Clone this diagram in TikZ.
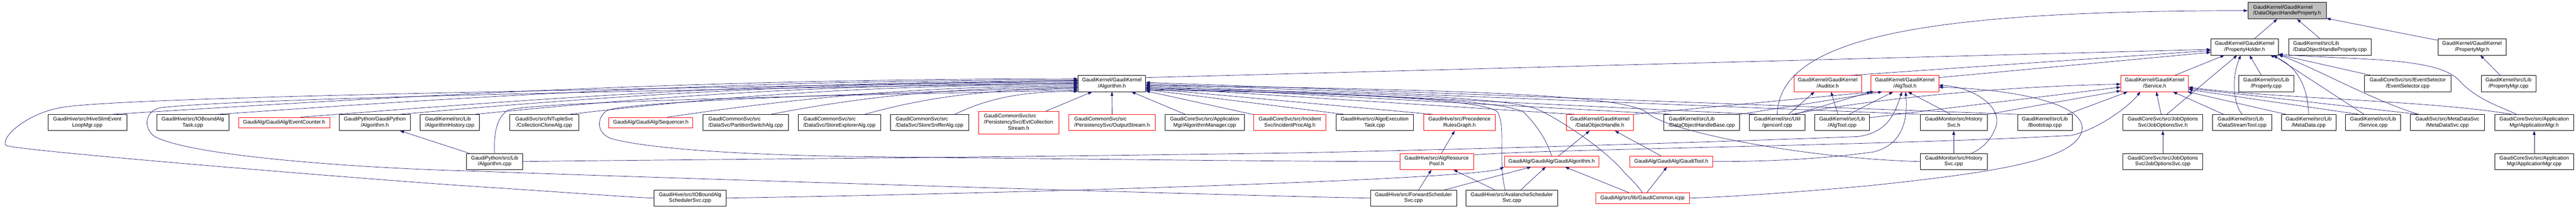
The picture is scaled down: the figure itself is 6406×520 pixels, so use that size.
\documentclass[tikz,border=0pt]{standalone}
\usepackage{fontspec}
\setmainfont{Liberation Sans}
\usetikzlibrary{arrows.meta}
\definecolor{edgeblue}{RGB}{25,25,112}
\newcommand{\nodefont}{\fontsize{13}{15}\selectfont}
\newcommand{\twoln}[2]{\begin{tabular}{@{}l@{}}#1\\\multicolumn{1}{@{}c@{}}{#2}\end{tabular}}
\newcommand{\threeln}[3]{\begin{tabular}{@{}l@{}}#1\\#2\\\multicolumn{1}{@{}c@{}}{#3}\end{tabular}}
\begin{document}
\begin{tikzpicture}[x=1pt, y=1pt, >={Triangle[length=10pt,width=7pt]},
	link/.style={draw=edgeblue, line width=0.9pt}]
		\useasboundingbox (0,0) rectangle (6406,-520);
		% file nodes
		\begin{scope}[every node/.style={draw, fill=white, line width=0.9pt, minimum height=40pt, inner sep=1pt, font=\nodefont}]
			\node (DOHProp)[minimum width=195pt, minimum height=41pt, fill=black!25] at (5687.5,-26.5) {\twoln{GaudiKernel/GaudiKernel}{/DataObjectHandleProperty.h}};
			\node (PropHolder)[minimum width=168pt] at (5582,-117) {\twoln{GaudiKernel/GaudiKernel}{/PropertyHolder.h}};
			\node (DOHPropCpp)[minimum width=206pt] at (5794,-117) {\twoln{GaudiKernel/src/Lib}{/DataObjectHandleProperty.cpp}};
			\node (PropMgrH)[minimum width=169pt] at (6147.5,-117) {\twoln{GaudiKernel/GaudiKernel}{/PropertyMgr.h}};
			\node (AlgH)[minimum width=168pt] at (2765,-208) {\twoln{GaudiKernel/GaudiKernel}{/Algorithm.h}};
			\node (PropCpp)[minimum width=137pt] at (5635.5,-208) {\twoln{GaudiKernel/src/Lib}{/Property.cpp}};
			\node (EvtSel)[minimum width=215pt] at (5987.5,-208) {\twoln{GaudiCoreSvc/src/EventSelector}{/EventSelector.cpp}};
			\node (PropMgrCpp)[minimum width=136pt] at (6238,-208) {\twoln{GaudiKernel/src/Lib}{/PropertyMgr.cpp}};
			\node (HiveSlim)[minimum width=196pt] at (217,-305) {\twoln{GaudiHive/src/HiveSlimEvent}{LoopMgr.cpp}};
			\node (IOTask)[minimum width=179pt] at (479.5,-305) {\twoln{GaudiHive/src/IOBoundAlg}{Task.cpp}};
			\node (PyAlgH)[minimum width=176pt] at (932,-305) {\twoln{GaudiPython/GaudiPython}{/Algorithm.h}};
			\node (AlgHist)[minimum width=148pt] at (1118,-305) {\twoln{GaudiKernel/src/Lib}{/AlgorithmHistory.cpp}};
			\node (CollClone)[minimum width=171pt] at (1353.5,-305) {\twoln{GaudiSvc/src/NTupleSvc}{/CollectionCloneAlg.cpp}};
			\node (PartSwitch)[minimum width=213pt] at (1854.5,-305) {\twoln{GaudiCommonSvc/src}{/DataSvc/PartitionSwitchAlg.cpp}};
			\node (StoreExpl)[minimum width=205pt] at (2087.5,-305) {\twoln{GaudiCommonSvc/src}{/DataSvc/StoreExplorerAlg.cpp}};
			\node (StoreSniff)[minimum width=195pt] at (2311.5,-305) {\twoln{GaudiCommonSvc/src}{/DataSvc/StoreSnifferAlg.cpp}};
			\node (AlgMgr)[minimum width=198pt] at (2996,-305) {\twoln{GaudiCoreSvc/src/Application}{Mgr/AlgorithmManager.cpp}};
			\node (AlgoExec)[minimum width=193pt] at (3418.5,-305) {\twoln{GaudiHive/src/AlgoExecution}{Task.cpp}};
			\node (DOHBase)[minimum width=188pt] at (4232,-305) {\twoln{GaudiKernel/src/Lib}{/DataObjectHandleBase.cpp}};
			\node (Genconf)[minimum width=139pt] at (4419.5,-305) {\twoln{GaudiKernel/src/Util}{/genconf.cpp}};
			\node (AlgToolCpp)[minimum width=136pt] at (4581,-305) {\twoln{GaudiKernel/src/Lib}{/AlgTool.cpp}};
			\node (HistSvcH)[minimum width=167pt] at (4858.5,-305) {\twoln{GaudiMonitor/src/History}{Svc.h}};
			\node (Bootstrap)[minimum width=136pt] at (5085,-305) {\twoln{GaudiKernel/src/Lib}{/Bootstrap.cpp}};
			\node (JobOptH)[minimum width=199pt] at (5378.5,-305) {\twoln{GaudiCoreSvc/src/JobOptions}{Svc/JobOptionsSvc.h}};
			\node (DataStream)[minimum width=147pt] at (5575.5,-305) {\twoln{GaudiKernel/src/Lib}{/DataStreamTool.cpp}};
			\node (MetaData)[minimum width=136pt] at (5741,-305) {\twoln{GaudiKernel/src/Lib}{/MetaData.cpp}};
			\node (SvcCpp)[minimum width=137pt] at (5901.5,-305) {\twoln{GaudiKernel/src/Lib}{/Service.cpp}};
			\node (MetaSvc)[minimum width=184pt] at (6086,-305) {\twoln{GaudiSvc/src/MetaDataSvc}{/MetaDataSvc.cpp}};
			\node (AppMgrH)[minimum width=196pt] at (6302,-305) {\twoln{GaudiCoreSvc/src/Application}{Mgr/ApplicationMgr.h}};
			\node (PyAlgCpp)[minimum width=140pt] at (1230,-402) {\twoln{GaudiPython/src/Lib}{/Algorithm.cpp}};
			\node (HistSvcCpp)[minimum width=167pt] at (4858.5,-402) {\twoln{GaudiMonitor/src/History}{Svc.cpp}};
			\node (JobOptCpp)[minimum width=199pt] at (5378.5,-402) {\twoln{GaudiCoreSvc/src/JobOptions}{Svc/JobOptionsSvc.cpp}};
			\node (AppMgrCpp)[minimum width=196pt] at (6302,-402) {\twoln{GaudiCoreSvc/src/Application}{Mgr/ApplicationMgr.cpp}};
			\node (IOSched)[minimum width=180pt] at (1716,-493) {\twoln{GaudiHive/src/IOBoundAlg}{SchedulerSvc.cpp}};
			\node (FwdSched)[minimum width=214pt] at (3515,-493) {\twoln{GaudiHive/src/ForwardScheduler}{Svc.cpp}};
			\node (AvaSched)[minimum width=227pt] at (3759.5,-493) {\twoln{GaudiHive/src/AvalancheScheduler}{Svc.cpp}};
		\end{scope}
		% files with more includers
		\begin{scope}[every node/.style={draw=red, fill=white, line width=0.9pt, minimum height=40pt, inner sep=1pt, font=\nodefont}]
			\node (Auditor)[minimum width=168pt] at (4545,-208) {\twoln{GaudiKernel/GaudiKernel}{/Auditor.h}};
			\node (AlgTool)[minimum width=168pt] at (4737,-208) {\twoln{GaudiKernel/GaudiKernel}{/AlgTool.h}};
			\node (Service)[minimum width=168pt] at (5358,-208) {\twoln{GaudiKernel/GaudiKernel}{/Service.h}};
			\node (EvtCounter)[minimum width=227pt, minimum height=26pt] at (706.5,-305) {GaudiAlg/GaudiAlg/EventCounter.h};
			\node (Sequencer)[minimum width=209pt, minimum height=26pt] at (1618.5,-305) {GaudiAlg/GaudiAlg/Sequencer.h};
			\node (EvtCollStream)[minimum width=200pt, minimum height=56pt] at (2533,-305) {\threeln{GaudiCommonSvc/src}{/PersistencySvc/EvtCollection}{Stream.h}};
			\node (OutStream)[minimum width=215pt] at (2765.5,-305) {\twoln{GaudiCommonSvc/src}{/PersistencySvc/OutputStream.h}};
			\node (IncProc)[minimum width=179pt] at (3207.5,-305) {\twoln{GaudiCoreSvc/src/Incident}{Svc/IncidentProcAlg.h}};
			\node (PrecRules)[minimum width=179pt] at (3629.5,-305) {\twoln{GaudiHive/src/Precedence}{RulesGraph.h}};
			\node (DOH)[minimum width=167pt] at (3978.5,-305) {\twoln{GaudiKernel/GaudiKernel}{/DataObjectHandle.h}};
			\node (ResPool)[minimum width=183pt] at (3572.5,-402) {\twoln{GaudiHive/src/AlgResource}{Pool.h}};
			\node (GaudiAlgo)[minimum width=235pt, minimum height=26pt] at (3858.5,-402) {GaudiAlg/GaudiAlg/GaudiAlgorithm.h};
			\node (GaudiTool)[minimum width=206pt, minimum height=26pt] at (4156,-402) {GaudiAlg/GaudiAlg/GaudiTool.h};
			\node (GaudiCommon)[minimum width=233pt, minimum height=26pt] at (4084.5,-493) {GaudiAlg/src/lib/GaudiCommon.icpp};
		\end{scope}
		% include arrows
		\begin{scope}[every edge/.style={link}]
			\path [<-] (DOHProp) edge (PropHolder);
			\path [<-] (DOHProp) edge (DOHPropCpp);
			\path [<-] (DOHProp) edge (PropMgrH);
			\path [<-] (PropMgrH) edge (PropMgrCpp);
			\draw [<-, link] (DOHProp.west) .. controls (4800,-27) and (4425,-90) .. (Genconf.north);
			\path [<-] (PropHolder.184) edge (AlgH.10);
			\path [<-] (PropHolder.186) edge (Auditor.20);
			\path [<-] (PropHolder.189) edge (AlgTool.10);
			\path [<-] (PropHolder) edge (Service);
			\path [<-] (PropHolder.228) edge (JobOptH.65);
			\draw [<-, link] (PropHolder.245) .. controls (5550,-190) and (5552,-255) .. (DataStream.north);
			\path [<-] (PropHolder) edge (PropCpp);
			\draw [<-, link] (PropHolder.-18) .. controls (5710,-160) and (5740,-215) .. (MetaData.north);
			\path [<-] (PropHolder.-16) edge (SvcCpp.138);
			\draw [<-, link] (PropHolder.-13) .. controls (5760,-170) and (5900,-250) .. (MetaSvc.164);
			\path [<-] (PropHolder) edge (EvtSel);
			\draw [<-, link] (PropHolder.-12) .. controls (5850,-150) and (6060,-140) .. (6115,-200) .. controls (6160,-250) and (6230,-270) .. (AppMgrH.155);
			\path [<-] (Service) edge (JobOptH);
			\path [<-] (Service) edge (DataStream);
			\path [<-] (Service.-14) edge (MetaData.160);
			\path [<-] (Service.-10) edge (SvcCpp.150);
			\path [<-] (Service.-8) edge (MetaSvc.164);
			\draw [<-, link] (Service.-6) .. controls (5650,-245) and (6050,-250) .. (AppMgrH.160);
			\path [<-] (Service.197) edge (Bootstrap.20);
			\path [<-] (Service.192) edge (HistSvcH.north east);
			\path [<-] (Service.186) edge (AlgToolCpp.10);
			\draw [<-, link] (Service.181) .. controls (5000,-215) and (4700,-240) .. (Genconf.30);
			\draw [<-, link] (Service.210) .. controls (5290,-270) and (5210,-325) .. (5150,-337) .. controls (4700,-362) and (3800,-372) .. (ResPool.10);
			\path [<-] (JobOptH) edge (JobOptCpp);
			\path [<-] (AppMgrH) edge (AppMgrCpp);
			\path [<-] (Auditor.212) edge (Genconf.36);
			\path [<-] (Auditor.292) edge (AlgToolCpp.117);
			\path [<-] (AlgTool.south west) edge (Genconf.25);
			\path [<-] (AlgTool.195) edge (DOH.north east);
			\path [<-] (AlgTool.200) edge (DOHBase.north east);
			\path [<-] (AlgTool.215) edge (AlgToolCpp.50);
			\path [<-] (AlgTool.290) edge (HistSvcH.110);
			\draw [<-, link] (AlgTool.250) .. controls (4710,-290) and (4690,-330) .. (4620,-340) .. controls (4300,-352) and (3800,-368) .. (3250,-380) .. controls (2400,-393) and (1600,-398) .. (PyAlgCpp.east);
			\draw [<-, link] (AlgTool.275) .. controls (4745,-300) and (4730,-360) .. (4660,-378) .. controls (4500,-400) and (4350,-402) .. (GaudiTool.east);
			\draw [<-, link] (AlgTool.-3) .. controls (4900,-215) and (4975,-260) .. (4965,-310) .. controls (4955,-345) and (4930,-370) .. (HistSvcCpp.25);
			\draw [<-, link] (AlgTool.-6) .. controls (5000,-222) and (5180,-255) .. (5178,-320) .. controls (5170,-400) and (4950,-430) .. (4650,-462) .. controls (4450,-480) and (4300,-490) .. (GaudiCommon.east);
			\path [<-] (HistSvcH) edge (HistSvcCpp);
			% into Algorithm.h from the left
			\draw [<-, link] (AlgH.172) .. controls +(-961,0) and +(721,45) .. (HiveSlim.18);
			\draw [<-, link] (AlgH.174) .. controls +(-856,0) and +(642,45) .. (IOTask.18);
			\draw [<-, link] (AlgH.176) .. controls +(-774,0) and +(580,45) .. (EvtCounter.18);
			\draw [<-, link] (AlgH.178) .. controls +(-675,0) and +(506,45) .. (PyAlgH.18);
			\draw [<-, link] (AlgH.180) .. controls +(-600,0) and +(450,45) .. (AlgHist.18);
			\draw [<-, link] (AlgH.182) .. controls +(-506,0) and +(380,45) .. (CollClone.18);
			\draw [<-, link] (AlgH.184) .. controls +(-409,0) and +(307,45) .. (Sequencer.18);
			\draw [<-, link] (AlgH.186) .. controls +(-306,0) and +(230,45) .. (PartSwitch.18);
			\draw [<-, link] (AlgH.189) .. controls +(-213,0) and +(160,45) .. (StoreExpl.18);
			\draw [<-, link] (AlgH.193) .. controls +(-123,0) and +(92,45) .. (StoreSniff.18);
			\path [<-] (AlgH) edge (EvtCollStream);
			\path [<-] (AlgH) edge (OutStream);
			\path [<-] (AlgH) edge (AlgMgr);
			\path [<-] (AlgH) edge (IncProc);
			\draw [<-, link] (AlgH.175) .. controls (1600,-222) and (300,-240) .. (150,-268) .. controls (60,-285) and (0,-345) .. (15,-362) .. controls (40,-375) and (900,-445) .. (1150,-462) .. controls (1400,-478) and (1550,-490) .. (IOSched.west);
			\draw [<-, link] (AlgH.179) .. controls (1600,-225) and (600,-245) .. (400,-268) .. controls (360,-275) and (355,-320) .. (385,-340) .. controls (480,-390) and (900,-418) .. (1150,-425) .. controls (2000,-455) and (3200,-490) .. (FwdSched.west);
			\draw [<-, link] (AlgH.187) .. controls (2300,-228) and (1560,-250) .. (1510,-275) .. controls (1485,-290) and (1480,-330) .. (1520,-345) .. controls (1650,-380) and (2000,-388) .. (2150,-390) .. controls (2700,-396) and (3200,-402) .. (ResPool.west);
			\draw [<-, link] (AlgH.191) .. controls (2200,-235) and (1300,-252) .. (1262,-275) .. controls (1232,-295) and (1228,-340) .. (PyAlgCpp.north);
			\path [<-] (PyAlgH) edge (PyAlgCpp);
			% into Algorithm.h from the right
			\path [<-] (AlgH.-10) edge (AlgoExec.165);
			\path [<-] (AlgH.-8) edge (PrecRules.163);
			\path [<-] (AlgH.-6) edge (DOH.162);
			\path [<-] (AlgH.-4) edge (DOHBase.165);
			\path [<-] (AlgH.-2) edge (Genconf.158);
			\path [<-] (AlgH.0) edge (HistSvcH.north west);
			\path [<-] (AlgH.2) edge (Bootstrap.north west);
			\draw [<-, link] (AlgH.-11) .. controls (3300,-230) and (3700,-245) .. (3725,-280) .. controls (3745,-320) and (3725,-400) .. (AvaSched.129);
			\draw [<-, link] (AlgH.-9) .. controls (3300,-232) and (3740,-245) .. (3790,-280) .. controls (3830,-320) and (3850,-360) .. (GaudiAlgo.north);
			\draw [<-, link] (AlgH.-7) .. controls (3400,-232) and (3760,-240) .. (3830,-275) .. controls (3900,-310) and (4000,-380) .. (4040,-430) .. controls (4070,-460) .. (GaudiCommon.north);
			\draw [<-, link] (AlgH.-3) .. controls (3600,-222) and (4040,-235) .. (4095,-280) .. controls (4150,-330) and (4500,-395) .. (HistSvcCpp.west);
			% lower levels
			\path [<-] (PrecRules) edge (ResPool);
			\path [<-] (ResPool) edge (FwdSched);
			\path [<-] (ResPool) edge (AvaSched);
			\path [<-] (GaudiAlgo) edge (FwdSched);
			\path [<-] (GaudiAlgo) edge (AvaSched);
			\path [<-] (GaudiAlgo) edge (GaudiCommon);
			\path [<-] (GaudiTool) edge (GaudiCommon);
			\path [<-] (DOH) edge (GaudiAlgo);
			\path [<-] (DOH) edge (GaudiTool);
			\draw [<-, link] (GaudiAlgo.south west) .. controls (3680,-445) and (2600,-480) .. (IOSched.east);
		\end{scope}
	\end{tikzpicture}
\end{document}
